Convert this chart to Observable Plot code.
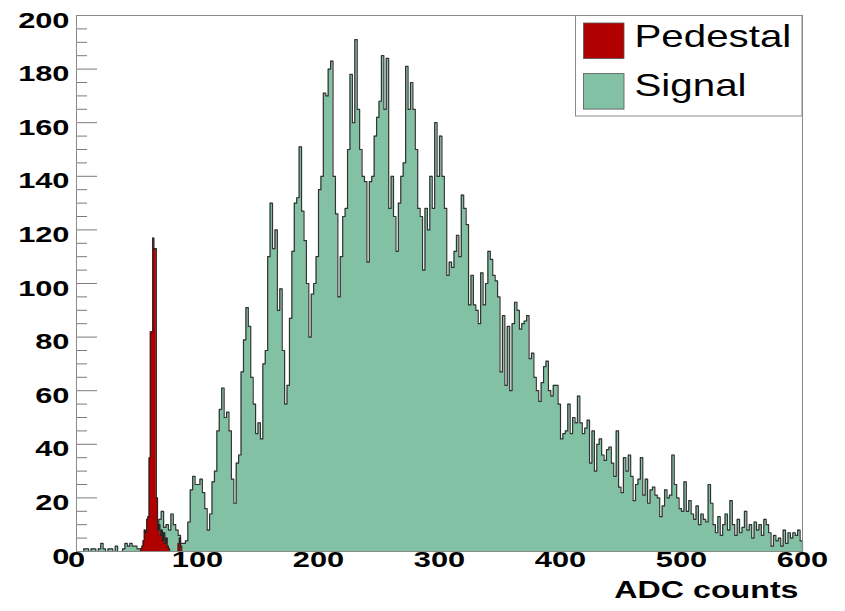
<!DOCTYPE html>
<html>
<head>
<meta charset="utf-8">
<script src="https://cdn.jsdelivr.net/npm/d3@7"></script>
<script src="https://cdn.jsdelivr.net/npm/@observablehq/plot@0.6"></script>
<style>
  html, body { margin: 0; padding: 0; background: #fff; }
  #chart { width: 845px; height: 611px; }
</style>
</head>
<body>
<div id="chart"></div>
<script>
// ---- data ----
const signalStart = 0;
const signalBinWidth = 2;
const signalCounts = [
  0, 0, 0, 1, 1, 0, 1, 1, 0, 1,
  3, 1, 0, 1, 1, 0, 2, 0, 0, 1,
  3, 2, 3, 2, 2, 1, 1, 1, 2, 3,
  5, 6, 8, 10, 12, 15, 9, 10, 8, 14,
  10, 8, 6, 3, 3, 4, 11, 23, 28, 25,
  25, 27, 22, 16, 8, 14, 26, 30, 45, 53,
  61, 50, 52, 45, 27, 18, 33, 36, 67, 79,
  91, 84, 65, 55, 44, 48, 42, 70, 75, 110,
  130, 113, 120, 90, 98, 75, 55, 62, 87, 112,
  130, 132, 151, 127, 116, 100, 80, 96, 100, 110,
  135, 140, 171, 170, 180, 183, 140, 126, 95, 110,
  125, 128, 150, 178, 160, 191, 165, 150, 140, 138,
  108, 138, 140, 155, 162, 168, 185, 165, 184, 128,
  140, 125, 112, 130, 140, 145, 181, 165, 175, 165,
  150, 128, 125, 105, 128, 120, 140, 128, 160, 140,
  155, 140, 128, 103, 108, 106, 112, 118, 110, 133,
  128, 122, 92, 103, 92, 90, 85, 104, 92, 100,
  112, 109, 103, 101, 95, 67, 88, 62, 84, 60,
  85, 93, 90, 83, 85, 86, 88, 72, 74, 65,
  60, 56, 63, 69, 71, 60, 58, 62, 62, 55,
  42, 44, 45, 55, 44, 50, 48, 58, 48, 44,
  46, 49, 33, 45, 30, 40, 42, 36, 34, 38,
  39, 33, 28, 45, 24, 22, 35, 30, 36, 28,
  19, 25, 27, 35, 21, 27, 18, 23, 24, 21,
  20, 13, 17, 23, 20, 21, 36, 25, 20, 16,
  15, 26, 15, 19, 14, 12, 17, 10, 14, 12,
  11, 25, 18, 10, 7, 13, 6, 10, 14, 8,
  19, 10, 6, 12, 7, 9, 15, 8, 10, 5,
  11, 8, 10, 6, 12, 10, 7, 2, 6, 4,
  5, 2, 8, 3, 7, 5, 7, 6, 8, 4
];
const pedestalStart = 53;
const pedestalBinWidth = 1;
const pedestalCounts = [
  1, 2, 4, 8, 7, 12, 13, 35, 82, 82,
  117, 113, 113, 20, 8, 10, 6, 8, 4, 7,
  3, 5, 2, 1, 0, 0, 0, 0, 0, 0,
  0, 3, 5, 2
];
const seriesNames = ["Pedestal", "Signal"];
const seriesColors = ["#b00000", "#82c1a4"];
const xTicks = [0, 100, 200, 300, 400, 500, 600];
const yTicks = [0, 20, 40, 60, 80, 100, 120, 140, 160, 180, 200];
const yMinorStep = 5;
const xLabel = "ADC counts";

// ---- helpers ----
function stepPoints(start, w, counts) {
  const end = start + w * counts.length;
  return [
    {x: start, y: 0},
    ...counts.map((c, i) => ({x: start + i * w, y: c})),
    {x: end, y: counts[counts.length - 1]},
    {x: end, y: 0}
  ];
}
const sig = stepPoints(signalStart, signalBinWidth, signalCounts);
const ped = stepPoints(pedestalStart, pedestalBinWidth, pedestalCounts);
const yMinor = d3.range(0, 200 + 1e-9, yMinorStep).filter(v => !yTicks.includes(v));

const W = 845, H = 611, mL = 76, mR = 43, mT = 15, mB = 60;
const frameW = W - mL - mR;
const font = "'Liberation Sans', Arial, Helvetica, sans-serif";

const chart = Plot.plot({
  width: W, height: H,
  marginLeft: mL, marginRight: mR, marginTop: mT, marginBottom: mB,
  x: {domain: [0, 600], axis: null},
  y: {domain: [0, 200], axis: null},
  style: {fontFamily: font, background: "white", overflow: "visible"},
  marks: [
    Plot.areaY(sig, {x: "x", y: "y", curve: "step-after", fill: seriesColors[1]}),
    Plot.lineY(sig, {x: "x", y: "y", curve: "step-after", stroke: "#333", strokeWidth: 1.2}),
    Plot.areaY(ped, {x: "x", y: "y", curve: "step-after", fill: seriesColors[0]}),
    Plot.lineY(ped, {x: "x", y: "y", curve: "step-after", stroke: "#222", strokeWidth: 1.1}),
    Plot.tickY(yMinor, {y: d => d, stroke: "#7a7a7a", insetRight: frameW - 11}),
    Plot.tickY(yTicks, {y: d => d, stroke: "#7a7a7a", insetRight: frameW - 21}),
    Plot.frame({stroke: "#8a8a8a"}),
    Plot.text(yTicks, {y: d => d, frameAnchor: "left", textAnchor: "end", dx: -7, dy: 5,
      text: d => String(d), fontSize: 22, fontWeight: "bold", fill: "#000"}),
    Plot.text(xTicks, {x: d => d, frameAnchor: "bottom", textAnchor: "middle", dy: 15.5,
      text: d => String(d), fontSize: 22, fontWeight: "bold", fill: "#000"}),
    Plot.text([xLabel], {frameAnchor: "bottom-right", textAnchor: "end", dx: -4, dy: 46.6,
      text: d => d, fontSize: 23, fontWeight: "bold", fill: "#000"})
  ]
});

// horizontally stretched lettering, as in the reference
chart.querySelectorAll('g[aria-label="text"] text').forEach(t => {
  t.setAttribute("transform", (t.getAttribute("transform") || "") + " scale(1.4,1)");
});

// legend box (top right, inside the frame)
const svg = d3.select(chart);
const lg = svg.append("g").attr("font-family", font).attr("text-anchor", "start");
lg.append("rect").attr("x", 575.5).attr("y", 15.5).attr("width", 226.5).attr("height", 100.5)
  .attr("fill", "white").attr("stroke", "#8a8a8a");
seriesNames.forEach((name, i) => {
  lg.append("rect").attr("x", 583.5).attr("y", 23 + i * 50.6).attr("width", 40.5).attr("height", 35.5)
    .attr("fill", seriesColors[i]).attr("stroke", "#555").attr("stroke-width", 0.8);
  lg.append("text").attr("transform", `translate(634.5,${46.7 + i * 49}) scale(1.3,1)`)
    .attr("text-anchor", "start").attr("font-size", 31).attr("fill", "#000").text(name);
});

document.getElementById("chart").appendChild(chart);
</script>
</body>
</html>
